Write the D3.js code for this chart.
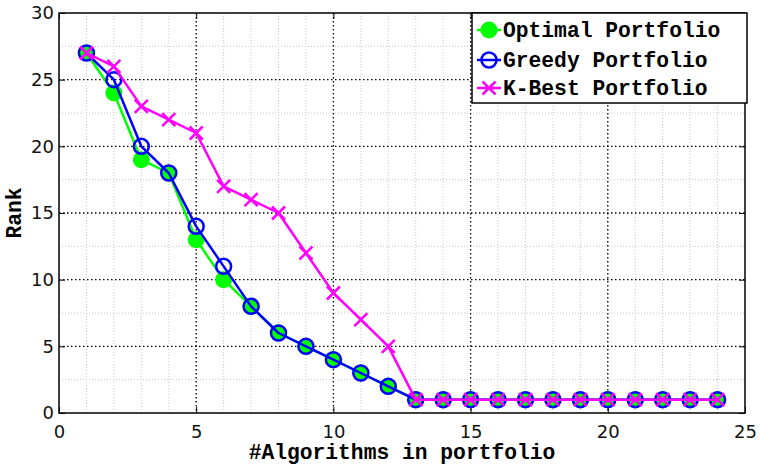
<!DOCTYPE html>
<html><head><meta charset="utf-8">
<script src="https://cdn.jsdelivr.net/npm/d3@7"></script>
<style>body{margin:0;background:#fff}</style>
</head><body>
<svg id="c" width="760" height="469"></svg>
<script>
const xs = d3.range(1, 25);
const optimal = [27,24,19,18,13,10,8,6,5,4,3,2,1,1,1,1,1,1,1,1,1,1,1,1];
const greedy  = [27,25,20,18,14,11,8,6,5,4,3,2,1,1,1,1,1,1,1,1,1,1,1,1];
const kbest   = [27,26,23,22,21,17,16,15,12,9,7,5,1,1,1,1,1,1,1,1,1,1,1,1];
const xTicks = [0,5,10,15,20,25];
const yTicks = [0,5,10,15,20,25,30];
const legendLabels = ["Optimal Portfolio","Greedy Portfolio","K-Best Portfolio"];

const svg = d3.select("#c");
const L=59, R=745, T=13, B=413;
const x = d3.scaleLinear().domain([0,25]).range([L,R]);
const y = d3.scaleLinear().domain([0,30]).range([B,T]);

// minor grid
const g = svg.append("g");
g.selectAll(".mx").data(d3.range(0,26).filter(d=>d%5)).enter().append("line")
  .attr("x1",d=>x(d)).attr("x2",d=>x(d)).attr("y1",T).attr("y2",B)
  .attr("stroke","#c8c8c8").attr("stroke-width",1).attr("stroke-dasharray","1,2");
g.selectAll(".my").data(d3.range(2.5,30,5)).enter().append("line")
  .attr("y1",d=>y(d)).attr("y2",d=>y(d)).attr("x1",L).attr("x2",R)
  .attr("stroke","#c8c8c8").attr("stroke-width",1).attr("stroke-dasharray","1,2");
// major grid
g.selectAll(".Mx").data(xTicks.slice(1,-1)).enter().append("line")
  .attr("x1",d=>x(d)).attr("x2",d=>x(d)).attr("y1",T).attr("y2",B)
  .attr("stroke","#000").attr("stroke-width",1.3).attr("stroke-dasharray","1.5,2.5");
g.selectAll(".My").data(yTicks.slice(1,-1)).enter().append("line")
  .attr("y1",d=>y(d)).attr("y2",d=>y(d)).attr("x1",L).attr("x2",R)
  .attr("stroke","#000").attr("stroke-width",1.3).attr("stroke-dasharray","1.5,2.5");

// axes
const tickFont = "DejaVu Sans, sans-serif";
const ax = svg.append("g").attr("transform",`translate(0,${B})`)
  .call(d3.axisBottom(x).tickValues(xTicks).tickSize(-6).tickPadding(12).tickFormat(d3.format("d")));
const ay = svg.append("g").attr("transform",`translate(${L},0)`)
  .call(d3.axisLeft(y).tickValues(yTicks).tickSize(-6).tickPadding(5).tickFormat(d3.format("d")));
const axT = svg.append("g").attr("transform",`translate(0,${T})`)
  .call(d3.axisTop(x).tickValues(xTicks).tickSize(-6).tickFormat(""));
const ayR = svg.append("g").attr("transform",`translate(${R},0)`)
  .call(d3.axisRight(y).tickValues(yTicks).tickSize(-6).tickFormat(""));
[ax,ay,axT,ayR].forEach(a=>{
  a.select(".domain").remove();
  a.selectAll("line").attr("stroke","#000").attr("stroke-width",1);
  a.selectAll("text").attr("font-family",tickFont).attr("font-size",18).attr("fill","#111");
});
svg.append("rect").attr("x",L).attr("y",T).attr("width",R-L).attr("height",B-T)
  .attr("fill","none").attr("stroke","#000").attr("stroke-width",1.5);

// lines
const line = d3.line().x((d,i)=>x(xs[i])).y(d=>y(d));
function drawLine(data,color){
  svg.append("path").datum(data).attr("d",line).attr("fill","none")
    .attr("stroke",color).attr("stroke-width",2.5).attr("stroke-linejoin","round");
}
drawLine(optimal,"#00ff00");
svg.append("g").selectAll("circle").data(optimal).enter().append("circle")
  .attr("cx",(d,i)=>x(xs[i])).attr("cy",d=>y(d)).attr("r",8.5).attr("fill","#00ff00");
drawLine(greedy,"#0000ff");
svg.append("g").selectAll("circle").data(greedy).enter().append("circle")
  .attr("cx",(d,i)=>x(xs[i])).attr("cy",d=>y(d)).attr("r",7.5).attr("fill","none")
  .attr("stroke","#0000ff").attr("stroke-width",2.5);
drawLine(kbest,"#ff00ff");
const s=6.5;
function cross(gg,cx,cy){
  gg.append("path").attr("d",`M${cx-s},${cy-s}L${cx+s},${cy+s}M${cx-s},${cy+s}L${cx+s},${cy-s}`)
    .attr("stroke","#ff00ff").attr("stroke-width",2.5).attr("fill","none");
}
const kg = svg.append("g");
kbest.forEach((d,i)=>cross(kg,x(xs[i]),y(d)));

// axis labels
const mono = "Liberation Mono, Courier New, monospace";
svg.append("text").attr("x",(L+R)/2).attr("y",459).attr("text-anchor","middle")
  .attr("font-family",mono).attr("font-weight","bold").attr("font-size",21.3)
  .text("#Algorithms in portfolio");
svg.append("text").attr("transform",`translate(21,${(T+B)/2}) rotate(-90)`).attr("text-anchor","middle")
  .attr("font-family",mono).attr("font-weight","bold").attr("font-size",21.3)
  .text("Rank");

// legend
const lg = svg.append("g");
lg.append("rect").attr("x",472).attr("y",13).attr("width",275).attr("height",90)
  .attr("fill","#fff").attr("stroke","#000").attr("stroke-width",1.5);
const rows=[30,60,88];
const colors=["#00ff00","#0000ff","#ff00ff"];
legendLabels.forEach((lab,i)=>{
  const cy=rows[i];
  lg.append("line").attr("x1",477).attr("x2",501).attr("y1",cy).attr("y2",cy)
    .attr("stroke",colors[i]).attr("stroke-width",2.5);
  if(i===0) lg.append("circle").attr("cx",489).attr("cy",cy).attr("r",8.5).attr("fill","#00ff00");
  if(i===1) lg.append("circle").attr("cx",489).attr("cy",cy).attr("r",7.5).attr("fill","none").attr("stroke","#0000ff").attr("stroke-width",2.5);
  if(i===2) cross(lg,489,cy);
  lg.append("text").attr("x",503).attr("y",cy+7).attr("font-family",mono).attr("font-weight","bold")
    .attr("font-size",21.3).text(lab);
});
</script>
</body></html>
